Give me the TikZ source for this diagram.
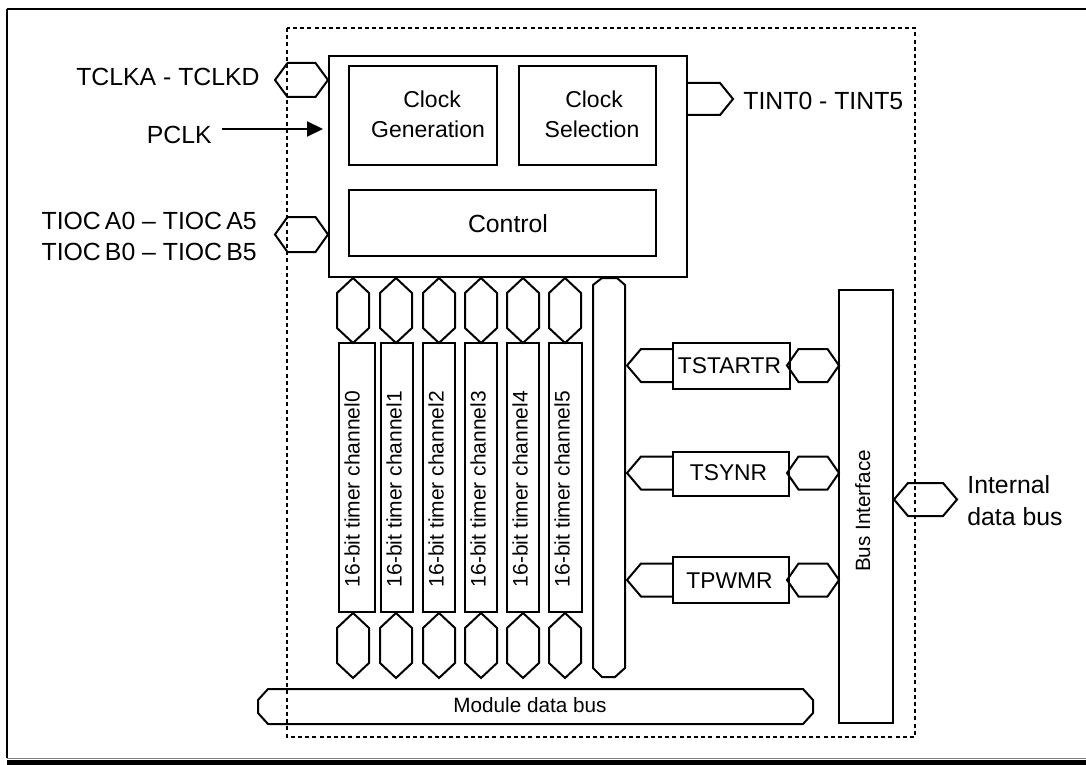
\documentclass[tikz,border=0pt]{standalone}
\usepackage{fontspec}
\setmainfont{Liberation Sans}
\usetikzlibrary{arrows.meta,fit}
\newcommand\hexh[5]{\draw[ln] (#1,#3) -- ({#1+#5},{#3-#4}) -- ({#2-#5},{#3-#4}) -- (#2,#3) -- ({#2-#5},{#3+#4}) -- ({#1+#5},{#3+#4}) -- cycle;}
\newcommand\hexv[5]{\draw[ln] (#3,#1) -- ({#3+#4},{#1+#5}) -- ({#3+#4},{#2-#5}) -- (#3,#2) -- ({#3-#4},{#2-#5}) -- ({#3-#4},{#1+#5}) -- cycle;}
\newcommand\pentl[2]{\draw[ln] (#2,{#1-16.5}) -- (641,{#1-16.5}) -- (627,#1) -- (641,{#1+16.5}) -- (#2,{#1+16.5});}
\begin{document}
\begin{tikzpicture}[x=0.5pt,y=-0.5pt,
  ln/.style={line width=1pt, line join=miter},
  box/.style={draw, line width=1pt, inner sep=0pt},
  lab/.style={inner sep=0pt, font=\fontsize{12.4}{14}\selectfont},
  inl/.style={inner sep=0pt, font=\fontsize{11.5}{14}\selectfont},
  reg/.style={inner sep=0pt, font=\fontsize{11.4}{14}\selectfont},
  sml/.style={inner sep=0pt, font=\fontsize{10.35}{12}\selectfont},
  chtxt/.style={inner sep=0pt, font=\fontsize{10.5}{12}\selectfont, rotate=90, anchor=base},
  dots/.style={line width=1pt, dash pattern=on 2pt off 1.6pt}]
\useasboundingbox (0,0) rectangle (1086,765);
% outer frame
\draw[line width=1.4pt] (7,9) -- (1086,9);
\draw[line width=1pt] (7,9) -- (7,758);
\draw[line width=0.5pt, gray] (7,758) -- (1086,758);
\fill (7,760) rectangle (1086,765);
% dotted module boundary
\draw[dots] (287,28) rectangle (915,737);
% main control block
\node[box, fit={(329,56) (687,277)}] (ctrl) {};
\node[box, fit={(349,66) (497,165)}] (cgen) {};
\node[box, fit={(519,66) (656,165)}] (csel) {};
\node[box, fit={(349,190) (656,256)}] (cont) {};
\node[inl, anchor=base] (cgen1) at (432,107) {Clock};
\node[inl, anchor=base] (cgen2) at (428,137) {Generation};
\node[inl, anchor=base] (csel1) at (594,107) {Clock};
\node[inl, anchor=base] (csel2) at (592,137) {Selection};
\node[lab, anchor=base] (contt) at (508,232) {Control};
% left ports
\hexh{275}{328}{80}{17}{12.5}
\hexh{275}{328}{234.5}{17.5}{12.5}
\node[lab, anchor=base east] (tclk) at (260,86) {TCLKA - TCLKD};
\node[lab, anchor=base east] (pclk) at (212,143) {PCLK};
\node[lab, anchor=base east] (tioca) at (257,229) {TIOC\,A0 -- TIOC\,A5};
\node[lab, anchor=base east] (tiocb) at (257,260) {TIOC\,B0 -- TIOC\,B5};
\coordinate (pclkA) at (222,129);
\coordinate (pclkB) at (323,129);
\draw[line width=1pt, -{Triangle[length=8pt,width=7.5pt]}] (pclkA) -- (pclkB);
% TINT port
\draw[ln] (687,83) -- (720,83) -- (733,99) -- (720,115) -- (687,115);
\node[lab, anchor=base west] (tint) at (743,110) {TINT0 - TINT5};
% timer channels
\foreach \i/\l/\r/\c in {0/339/375/353, 1/381/413/396, 2/423/455/439, 3/465/497/481, 4/507/539/523, 5/549/582/565} {
  \node[box, fit={(\l,343) (\r,612)}] (ch\i) {};
  \hexv{278}{343}{\c}{16}{15}
  \hexv{613}{678}{\c}{16}{15}
  \node[chtxt] (cht\i) at ({\l+20.5},489) {16-bit timer channel\i};
}
% tall internal bus
\draw[ln] (593,285) -- (602,278) -- (617,278) -- (625,285) -- (625,668) -- (615,677) -- (602,677) -- (593,668) -- cycle;
% registers
\node[box, fit={(673,343) (790,389)}] (tstartr) {};
\node[box, fit={(673,452) (789,496)}] (tsynr) {};
\node[box, fit={(673,557) (789,603)}] (tpwmr) {};
\node[reg, anchor=base] (tstartrt) at (729.5,373) {TSTARTR};
\node[reg, anchor=base] (tsynrt) at (728.5,480) {TSYNR};
\node[reg, anchor=base] (tpwmrt) at (729.5,588) {TPWMR};
\pentl{365.5}{673}
\pentl{473}{673}
\pentl{580}{673}
\hexh{787}{839}{365.5}{16.5}{11.5}
\hexh{787}{839}{473}{16.5}{11.5}
\hexh{787}{839}{580}{16.5}{11.5}
% bus interface
\node[box, fit={(839,290) (893,723)}] (busif) {};
\node[sml, rotate=90, anchor=base] (busift) at (870,511) {Bus Interface};
\hexh{894}{957}{499.5}{16.5}{14}
\node[lab, anchor=base west] (int1) at (967,493) {Internal};
\node[lab, anchor=base west] (int2) at (967,525) {data bus};
% module data bus
\draw[ln] (258,700) -- (268,689) -- (803,689) -- (813,700) -- (813,713) -- (803,724) -- (268,724) -- (258,713) -- cycle;
\node[sml, anchor=base] (mdb) at (530,712) {Module data bus};
\end{tikzpicture}
\end{document}
